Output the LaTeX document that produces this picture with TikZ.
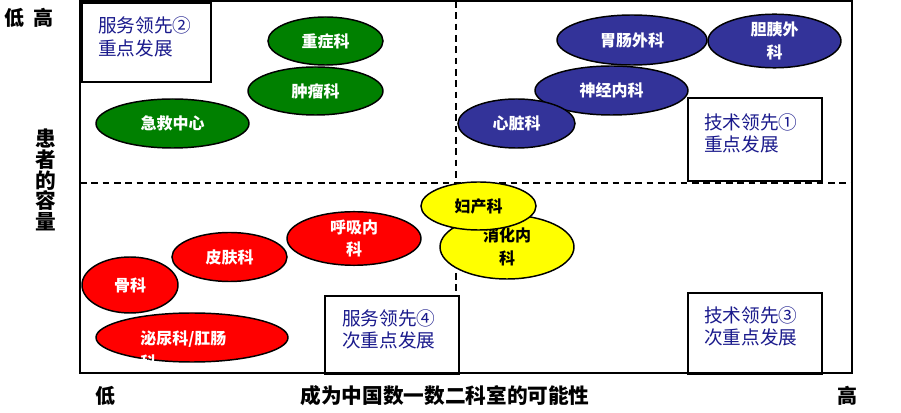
\documentclass[tikz,border=0pt]{standalone}
\usepackage{fontspec}
\setmainfont{Noto Sans CJK SC}
\usetikzlibrary{shapes.geometric}
\definecolor{egreen}{RGB}{0,128,0}
\definecolor{enavy}{RGB}{51,51,153}
\definecolor{ered}{RGB}{255,0,0}
\definecolor{eyellow}{RGB}{255,255,0}
\definecolor{btext}{RGB}{26,26,140}
\tikzset{
  dept/.style n args={3}{ellipse, draw=black, line width=1.1pt, fill=#1,
    minimum width=#2*0.75pt, minimum height=#3*0.75pt, inner sep=0pt,
    align=center, font=\fontsize{12}{17}\selectfont\bfseries},
  wtext/.style={text=white},
  ktext/.style={text=black},
  quad/.style n args={2}{draw=black, line width=1.5pt, fill=white,
    minimum width=#1*0.75pt, minimum height=#2*0.75pt, inner sep=0pt},
  quadtext/.style={anchor=west, inner sep=0pt, align=left, text=btext,
    font=\fontsize{14}{17}\selectfont},
  axislabel/.style={inner sep=0pt, text=black, font=\fontsize{15}{16}\selectfont\bfseries},
  divider/.style={line width=1.5pt, dash pattern=on 5pt off 3.5pt},
}
\begin{document}
\begin{tikzpicture}[x=0.75pt,y=-0.75pt]
\useasboundingbox[fill=white] (0,0) rectangle (901,413);
% frame corners
\coordinate (fnw) at (80,1);
\coordinate (fse) at (852,373);
% dividers
\coordinate (vtop) at (456,1);
\coordinate (vbot) at (456,373);
\coordinate (hl) at (80,183);
\coordinate (hr) at (852,183);
\draw[divider] (vtop) -- (vbot);
\draw[divider] (hl) -- (hr);
% quadrant boxes
\node[quad={129}{79}] (b2) at (146.5,43) {};
\node[quadtext] (t2) at (98,37) {服务领先②\\重点发展};
\node[quad={134}{83}] (b1) at (755,140) {};
\node[quadtext] (t1) at (704,133.5) {技术领先①\\重点发展};
\node[quad={134}{81}] (b3) at (755,333.5) {};
\node[quadtext] (t3) at (704,326.5) {技术领先③\\次重点发展};
\node[quad={134}{78}] (b4) at (392,335) {};
\node[quadtext] (t4) at (342,329.5) {服务领先④\\次重点发展};
% green
\node[dept={egreen}{115}{48}, wtext] (zz) at (325.5,41) {重症科};
\node[dept={egreen}{135}{48}, wtext] (zl) at (315.5,91) {肿瘤科};
\node[dept={egreen}{153}{49}, wtext] (jj) at (172.5,123.5) {急救中心};
% navy
\node[dept={enavy}{150}{50}, wtext] (wc) at (632,40) {胃肠外科};
\node[dept={enavy}{133}{48}, wtext] (dy) at (774.5,41) {胆胰外\\科};
\node[dept={enavy}{153}{49}, wtext] (sj) at (611.5,90.5) {神经内科};
\node[dept={enavy}{117}{49}, wtext] (xz) at (516.5,123.5) {心脏科};
% yellow
\node[dept={eyellow}{134}{64}, ktext] (xh) at (507,247) {消化内\\科};
\node[dept={eyellow}{115}{48}, ktext] (fc) at (478.5,206) {妇产科};
% red
\node[dept={ered}{134}{50}, wtext] (hx) at (354,238.5) {呼吸内\\科};
\node[dept={ered}{115}{49}, wtext] (pf) at (229.5,257) {皮肤科};
\node[dept={ered}{96}{56}, wtext] (gk) at (130,285) {骨科};
\node[dept={ered}{192}{49}] (mn) at (192,337.5) {};
\node[inner sep=0pt, anchor=west, text=white, font=\fontsize{12}{17}\selectfont\bfseries] (mnt1) at (140,339) {泌尿科/肛肠};
\node[inner sep=0pt, anchor=west, text=white, font=\fontsize{12}{17}\selectfont\bfseries] (mnt2) at (140,362) {科};
% frame
\draw[line width=1.8pt] (fnw) rectangle (fse);
% axis labels
\node[axislabel] (ylo) at (14,18) {低};
\node[axislabel] (yhi) at (43,18) {高};
\node[axislabel, align=center, font=\fontsize{15.5}{15.6}\selectfont\bfseries] (ytitle) at (46,180) {患\\者\\的\\容\\量};
\node[axislabel] (xlo) at (105,396) {低};
\node[axislabel, font=\fontsize{15.5}{16}\selectfont\bfseries] (xtitle) at (445,396) {成为中国数一数二科室的可能性};
\node[axislabel] (xhi) at (847,396) {高};
\end{tikzpicture}
\end{document}
